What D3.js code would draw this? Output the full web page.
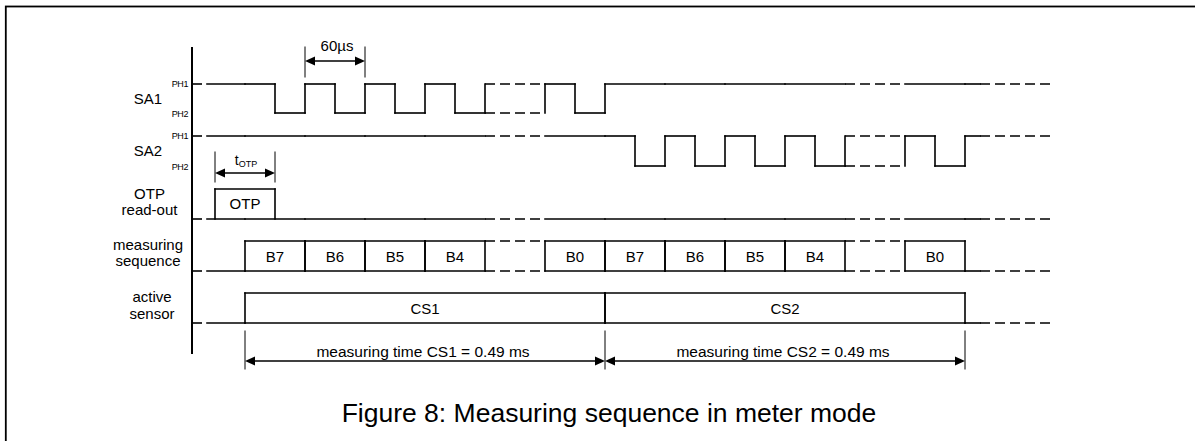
<!DOCTYPE html>
<html><head><meta charset="utf-8">
<script src="https://cdn.jsdelivr.net/npm/d3@7"></script>
<style>
html,body{margin:0;padding:0;background:#fff;}
svg{display:block;}
text{font-family:"Liberation Sans",Arial,Helvetica,sans-serif;fill:#000;stroke:none;}
</style></head><body>
<svg id="c" width="1195" height="441"></svg>
<script>
// ---------------- data ----------------
const signalNames = ["SA1", "SA2"];
const phaseNames = ["PH1", "PH2"];
const rowNames = [["OTP", "read-out"], ["measuring", "sequence"], ["active", "sensor"]];
const sensorNames = ["CS1", "CS2"];
const bitSlots = ["B7", "B6", "B5", "B4", null, "B0"]; // null = bits B3..B1 left out (dashed)
const bitPeriodUs = 60;
const otpWindowUs = [-30, 30];
const otpLabel = "OTP";
const measuringTimes = ["0.49 ms", "0.49 ms"];
const periodLabel = "60µs";
const timeSpanUs = [-53, 808];   // axis .. end of dashed tails
const leadInEndUs = -38;
const tailStartUs = 735;
const caption = "Figure 8: Measuring sequence in meter mode";

// ---------------- layout ----------------
const svg = d3.select("#c");
const x = d3.scaleLinear().domain(timeSpanUs).range([192, 1053]);
const sensorUs = bitSlots.length * bitPeriodUs;
const half = bitPeriodUs / 2;
const sigY = [{hi: 84, lo: 113}, {hi: 136, lo: 166}];
const rowY = [{top: 189, base: 219}, {top: 241, base: 271}, {top: 293, base: 323}];
const SW = 1.6, DASH = "10,5";
const FONT = 15;

// frame
svg.append("rect").attr("x", 5.8).attr("y", 6.5).attr("width", 1400).attr("height", 1000)
  .attr("fill", "none").attr("stroke", "#000").attr("stroke-width", 1.8);

const g = svg.append("g").attr("fill", "none").attr("stroke", "#000").attr("stroke-width", SW);

function seg(t0, t1, y, dashed) {
  g.append("line").attr("x1", x(t0)).attr("x2", x(t1)).attr("y1", y).attr("y2", y)
    .attr("stroke-dasharray", dashed ? DASH : null)
    .attr("stroke-linecap", dashed ? "butt" : "square");
}
function vert(t, y0, y1, w) {
  g.append("line").attr("x1", x(t)).attr("x2", x(t)).attr("y1", y0).attr("y2", y1)
    .attr("stroke-linecap", "square").attr("stroke-width", w || SW);
}
function slotStart(j, i) { return j * sensorUs + i * bitPeriodUs; }
function idleSlots(y, j) {
  bitSlots.forEach((b, i) => seg(slotStart(j, i), slotStart(j, i + 1), y, b === null));
}
function leadIn(y) {
  seg(timeSpanUs[0], leadInEndUs, y, true);
  seg(leadInEndUs, 0, y, false);
}
function tail(y) {
  const tEnd = sensorNames.length * sensorUs;
  seg(tEnd, tailStartUs, y, false);
  seg(tailStartUs, timeSpanUs[1], y, true);
}
function txt(s, px, py, size, anchor) {
  return svg.append("text").attr("x", px).attr("y", py).attr("font-size", size)
    .attr("text-anchor", anchor || "middle").text(s);
}
function arrowHead(xt, y, dir) {
  const L = 10, W = 4.5;
  svg.append("path").attr("d", `M${xt},${y}L${xt - dir * L},${y - W}L${xt - dir * L},${y + W}Z`).attr("fill", "#000");
}
function dimArrow(t0, t1, y) {
  g.append("line").attr("x1", x(t0) + 4).attr("x2", x(t1) - 4).attr("y1", y).attr("y2", y);
  arrowHead(x(t0), y, -1);
  arrowHead(x(t1), y, 1);
}

// axis
vert(timeSpanUs[0], 48, 353, 2);

// ---- SA1 / SA2 ----
signalNames.forEach((name, k) => {
  const {hi, lo} = sigY[k];
  leadIn(hi);
  sensorNames.forEach((s, j) => {
    if (j === k) {
      bitSlots.forEach((b, i) => {
        const tb = slotStart(j, i);
        if (i > 0) vert(tb, hi, lo);
        if (b !== null) {
          seg(tb, tb + half, hi, false);
          vert(tb + half, hi, lo);
          seg(tb + half, tb + bitPeriodUs, lo, false);
        } else {
          seg(tb, tb + bitPeriodUs, hi, true);
          seg(tb, tb + bitPeriodUs, lo, true);
        }
      });
      vert(slotStart(j, bitSlots.length), hi, lo);
    } else {
      idleSlots(hi, j);
    }
  });
  tail(hi);
  txt(name, 148, hi + 19.5, FONT);
  txt(phaseNames[0], 188, hi + 3, 9, "end").attr("letter-spacing", -0.4);
  txt(phaseNames[1], 188, lo + 3.5, 9, "end").attr("letter-spacing", -0.4);
});

// ---- OTP read-out ----
{
  const {top, base} = rowY[0];
  leadIn(base);
  sensorNames.forEach((s, j) => idleSlots(base, j));
  tail(base);
  vert(otpWindowUs[0], top, base);
  seg(otpWindowUs[0], otpWindowUs[1], top, false);
  vert(otpWindowUs[1], top, base);
  txt(otpLabel, (x(otpWindowUs[0]) + x(otpWindowUs[1])) / 2, top + 19.5, FONT);
}

// ---- measuring sequence ----
{
  const {top, base} = rowY[1];
  leadIn(base);
  sensorNames.forEach((s, j) => {
    bitSlots.forEach((b, i) => {
      const t0 = slotStart(j, i), t1 = slotStart(j, i + 1);
      if (b !== null) {
        seg(t0, t1, top, false);
        seg(t0, t1, base, false);
        vert(t0, top, base);
        vert(t1, top, base);
        txt(b, (x(t0) + x(t1)) / 2, top + 20.5, FONT);
      } else {
        seg(t0, t1, top, true);
        seg(t0, t1, base, true);
      }
    });
  });
  tail(base);
}

// ---- active sensor ----
{
  const {top, base} = rowY[2];
  leadIn(base);
  sensorNames.forEach((s, j) => {
    const t0 = slotStart(j, 0), t1 = slotStart(j + 1, 0);
    seg(t0, t1, top, false);
    seg(t0, t1, base, false);
    vert(t0, top, base);
    vert(t1, top, base);
    txt(s, (x(t0) + x(t1)) / 2, top + 20.5, FONT);
  });
  tail(base);
}

// row labels
const rowLabelY = [[199, 215], [249.5, 266], [302, 319]];
const rowLabelX = [149.5, 148, 152];
rowNames.forEach((lines, r) => lines.forEach((l, n) => txt(l, rowLabelX[r], rowLabelY[r][n], FONT)));

// ---- 60µs annotation ----
{
  const t0 = slotStart(0, 1), t1 = slotStart(0, 2);
  vert(t0, 47, 77, 1);
  vert(t1, 47, 77, 1);
  dimArrow(t0, t1, 61);
  txt(periodLabel, (x(t0) + x(t1)) / 2 + 2, 51, FONT);
}

// ---- tOTP annotation ----
{
  const [t0, t1] = otpWindowUs;
  vert(t0, 152, 182, 1);
  vert(t1, 152, 182, 1);
  dimArrow(t0, t1, 173);
  const tt = svg.append("text").attr("x", (x(t0) + x(t1)) / 2 + 1).attr("y", 165)
    .attr("font-size", 14).attr("text-anchor", "middle");
  tt.append("tspan").text("t");
  tt.append("tspan").attr("font-size", 9).attr("dy", 2).text("OTP");
}

// ---- measuring time annotations ----
{
  sensorNames.forEach((s, j) => vert(slotStart(j, 0), 331, 369, 1));
  vert(slotStart(sensorNames.length, 0), 331, 369, 1);
  sensorNames.forEach((s, j) => {
    const t0 = slotStart(j, 0), t1 = slotStart(j + 1, 0);
    dimArrow(t0, t1, 361);
    txt(`measuring time ${s} = ${measuringTimes[j]}`, (x(t0) + x(t1)) / 2 - 2, 357, 15.5);
  });
}

// caption
txt(caption, 609, 422, 26.5);
</script>
</body></html>
